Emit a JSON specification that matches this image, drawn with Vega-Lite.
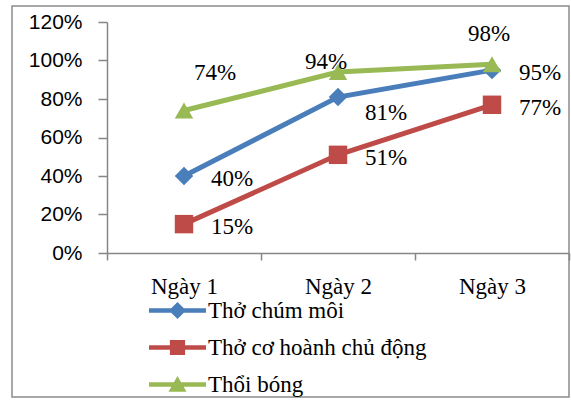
{
  "$schema": "https://vega.github.io/schema/vega-lite/v6.json",
  "width": 557,
  "height": 391,
  "autosize": "none",
  "padding": {"left": 12, "top": 6, "right": 2, "bottom": 3},
  "background": "white",
  "config": {"view": {"stroke": "#8c8c8c", "strokeWidth": 1.5}, "font": "Liberation Serif"},
  "data": {"values": [
    {"day": "Ngày 1", "series": "Thở chúm môi", "value": 0.40},
    {"day": "Ngày 2", "series": "Thở chúm môi", "value": 0.81},
    {"day": "Ngày 3", "series": "Thở chúm môi", "value": 0.95},
    {"day": "Ngày 1", "series": "Thở cơ hoành chủ động", "value": 0.15},
    {"day": "Ngày 2", "series": "Thở cơ hoành chủ động", "value": 0.51},
    {"day": "Ngày 3", "series": "Thở cơ hoành chủ động", "value": 0.77},
    {"day": "Ngày 1", "series": "Thổi bóng", "value": 0.74},
    {"day": "Ngày 2", "series": "Thổi bóng", "value": 0.94},
    {"day": "Ngày 3", "series": "Thổi bóng", "value": 0.98}
  ]},
  "encoding": {
    "x": {
      "field": "day", "type": "nominal", "sort": ["Ngày 1", "Ngày 2", "Ngày 3"],
      "scale": {"type": "band", "range": [95, 557], "paddingInner": 0, "paddingOuter": 0},
      "axis": {
        "orient": "bottom", "offset": -144, "tickBand": "extent", "labelAngle": 0, "title": null,
        "labelFont": "Liberation Serif", "labelFontSize": 23, "labelColor": "black", "labelPadding": 15,
        "tickSize": 7, "domainColor": "#868686", "tickColor": "#868686", "domainWidth": 1.5, "tickWidth": 1.5
      }
    },
    "y": {
      "field": "value", "type": "quantitative",
      "scale": {"domain": [0, 1.2], "range": [247, 16], "nice": false},
      "axis": {
        "orient": "left", "offset": -95, "format": ".0%", "values": [0, 0.2, 0.4, 0.6, 0.8, 1, 1.2],
        "grid": false, "title": null, "labelFont": "Liberation Sans", "labelFontSize": 21, "labelColor": "black",
        "labelPadding": 16, "tickSize": 9, "domainColor": "#868686", "tickColor": "#868686", "domainWidth": 1.5, "tickWidth": 1.5
      }
    },
    "color": {
      "field": "series", "type": "nominal",
      "scale": {"domain": ["Thở chúm môi", "Thở cơ hoành chủ động", "Thổi bóng"], "range": ["#4A7EBB", "#BE4B48", "#98B954"]},
      "legend": {
        "orient": "none", "legendX": 154, "legendY": 293, "title": null, "padding": 0,
        "symbolSize": 361, "symbolStrokeWidth": 0, "symbolOpacity": 1,
        "labelFont": "Liberation Serif", "labelFontSize": 23, "labelColor": "black", "labelOffset": 19,
        "rowPadding": 13, "labelLimit": 400
      }
    }
  },
  "layer": [
    {"mark": {"type": "line", "strokeWidth": 5}},
    {
      "transform": [{"filter": "datum.series === 'Thở chúm môi'"}],
      "mark": {"type": "point", "filled": true, "opacity": 1, "size": 340, "shape": "diamond"}
    },
    {
      "transform": [{"filter": "datum.series === 'Thở cơ hoành chủ động'"}],
      "mark": {"type": "point", "filled": true, "opacity": 1, "size": 340, "shape": "square"}
    },
    {
      "transform": [{"filter": "datum.series === 'Thổi bóng'"}],
      "mark": {"type": "point", "filled": true, "opacity": 1, "size": 340, "shape": "triangle-up"}
    },
    {
      "transform": [{"filter": "false"}],
      "mark": {"type": "point", "filled": true, "opacity": 1},
      "encoding": {
        "shape": {"field": "series", "type": "nominal",
          "scale": {"domain": ["Thở chúm môi", "Thở cơ hoành chủ động", "Thổi bóng"],
            "range": ["M-3,-0.24H3V0.24H-3ZM0,-0.9L0.9,0L0,0.9L-0.9,0Z", "M-3,-0.24H3V0.24H-3ZM-0.8,-0.8H0.8V0.8H-0.8Z", "M-3,-0.24H3V0.24H-3ZM0,-0.9L0.95,0.75H-0.95Z"]},
          "legend": {
            "orient": "none", "legendX": 154, "legendY": 293, "title": null, "padding": 0,
            "symbolSize": 361, "symbolStrokeWidth": 0, "symbolOpacity": 1,
            "labelFont": "Liberation Serif", "labelFontSize": 23, "labelColor": "black", "labelOffset": 19,
            "rowPadding": 13, "labelLimit": 400
          }
        }
      }
    },
    {
      "transform": [{"filter": "datum.series !== 'Thổi bóng' && !(datum.series === 'Thở chúm môi' && datum.day === 'Ngày 2')"}],
      "mark": {"type": "text", "align": "left", "baseline": "middle", "dx": 27, "dy": 3, "fontSize": 23, "font": "Liberation Serif", "color": "black"},
      "encoding": {"text": {"field": "value", "format": ".0%"}, "color": {"value": "black"}}
    },
    {
      "transform": [{"filter": "datum.series === 'Thở chúm môi' && datum.day === 'Ngày 2'"}],
      "mark": {"type": "text", "align": "left", "baseline": "middle", "dx": 27, "dy": 16, "fontSize": 23, "font": "Liberation Serif", "color": "black"},
      "encoding": {"text": {"field": "value", "format": ".0%"}, "color": {"value": "black"}}
    },
    {
      "transform": [{"filter": "datum.series === 'Thổi bóng' && datum.day === 'Ngày 1'"}],
      "mark": {"type": "text", "align": "center", "baseline": "middle", "dx": 31, "dy": -38, "fontSize": 23, "font": "Liberation Serif", "color": "black"},
      "encoding": {"text": {"field": "value", "format": ".0%"}, "color": {"value": "black"}}
    },
    {
      "transform": [{"filter": "datum.series === 'Thổi bóng' && datum.day === 'Ngày 2'"}],
      "mark": {"type": "text", "align": "center", "baseline": "middle", "dx": -12, "dy": -10, "fontSize": 23, "font": "Liberation Serif", "color": "black"},
      "encoding": {"text": {"field": "value", "format": ".0%"}, "color": {"value": "black"}}
    },
    {
      "transform": [{"filter": "datum.series === 'Thổi bóng' && datum.day === 'Ngày 3'"}],
      "mark": {"type": "text", "align": "center", "baseline": "middle", "dx": -3, "dy": -30, "fontSize": 23, "font": "Liberation Serif", "color": "black"},
      "encoding": {"text": {"field": "value", "format": ".0%"}, "color": {"value": "black"}}
    }
  ]
}
